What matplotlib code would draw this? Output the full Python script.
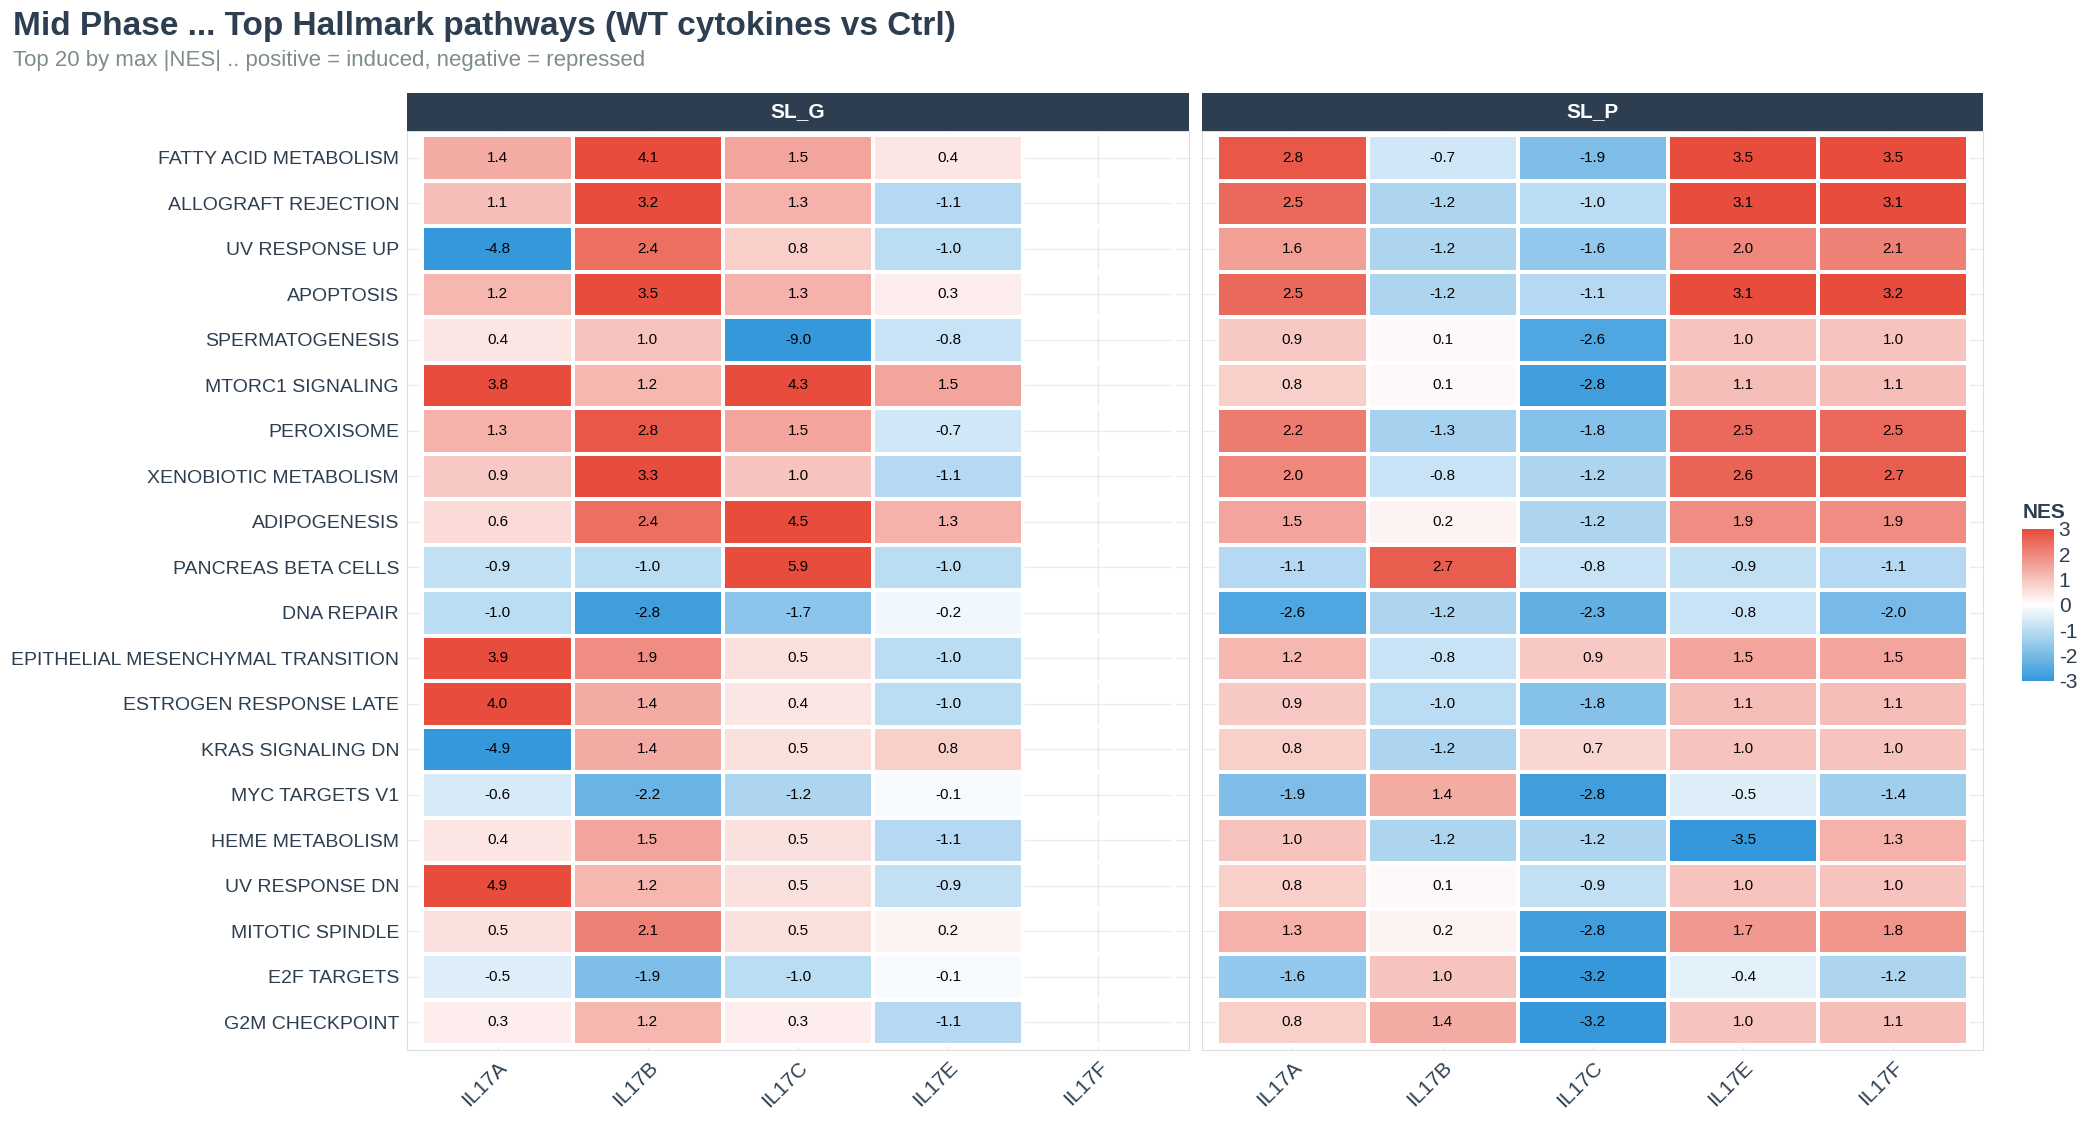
import numpy as np
import matplotlib
matplotlib.use("Agg")
import matplotlib.pyplot as plt
from matplotlib.colors import LinearSegmentedColormap, Normalize

plt.rcParams["font.family"] = ["Liberation Sans", "DejaVu Sans"]
plt.rcParams["axes.unicode_minus"] = False

pathways = ["FATTY ACID METABOLISM", "ALLOGRAFT REJECTION", "UV RESPONSE UP", "APOPTOSIS",
            "SPERMATOGENESIS", "MTORC1 SIGNALING", "PEROXISOME", "XENOBIOTIC METABOLISM",
            "ADIPOGENESIS", "PANCREAS BETA CELLS", "DNA REPAIR",
            "EPITHELIAL MESENCHYMAL TRANSITION", "ESTROGEN RESPONSE LATE", "KRAS SIGNALING DN",
            "MYC TARGETS V1", "HEME METABOLISM", "UV RESPONSE DN", "MITOTIC SPINDLE",
            "E2F TARGETS", "G2M CHECKPOINT"]
cytokines = ["IL17A", "IL17B", "IL17C", "IL17E", "IL17F"]
panels = ["SL_G", "SL_P"]

nan = np.nan
sl_g = [
    [1.4, 4.1, 1.5, 0.4, nan], [1.1, 3.2, 1.3, -1.1, nan], [-4.8, 2.4, 0.8, -1.0, nan],
    [1.2, 3.5, 1.3, 0.3, nan], [0.4, 1.0, -9.0, -0.8, nan], [3.8, 1.2, 4.3, 1.5, nan],
    [1.3, 2.8, 1.5, -0.7, nan], [0.9, 3.3, 1.0, -1.1, nan], [0.6, 2.4, 4.5, 1.3, nan],
    [-0.9, -1.0, 5.9, -1.0, nan], [-1.0, -2.8, -1.7, -0.2, nan], [3.9, 1.9, 0.5, -1.0, nan],
    [4.0, 1.4, 0.4, -1.0, nan], [-4.9, 1.4, 0.5, 0.8, nan], [-0.6, -2.2, -1.2, -0.1, nan],
    [0.4, 1.5, 0.5, -1.1, nan], [4.9, 1.2, 0.5, -0.9, nan], [0.5, 2.1, 0.5, 0.2, nan],
    [-0.5, -1.9, -1.0, -0.1, nan], [0.3, 1.2, 0.3, -1.1, nan]]
sl_p = [
    [2.8, -0.7, -1.9, 3.5, 3.5], [2.5, -1.2, -1.0, 3.1, 3.1], [1.6, -1.2, -1.6, 2.0, 2.1],
    [2.5, -1.2, -1.1, 3.1, 3.2], [0.9, 0.1, -2.6, 1.0, 1.0], [0.8, 0.1, -2.8, 1.1, 1.1],
    [2.2, -1.3, -1.8, 2.5, 2.5], [2.0, -0.8, -1.2, 2.6, 2.7], [1.5, 0.2, -1.2, 1.9, 1.9],
    [-1.1, 2.7, -0.8, -0.9, -1.1], [-2.6, -1.2, -2.3, -0.8, -2.0], [1.2, -0.8, 0.9, 1.5, 1.5],
    [0.9, -1.0, -1.8, 1.1, 1.1], [0.8, -1.2, 0.7, 1.0, 1.0], [-1.9, 1.4, -2.8, -0.5, -1.4],
    [1.0, -1.2, -1.2, -3.5, 1.3], [0.8, 0.1, -0.9, 1.0, 1.0], [1.3, 0.2, -2.8, 1.7, 1.8],
    [-1.6, 1.0, -3.2, -0.4, -1.2], [0.8, 1.4, -3.2, 1.0, 1.1]]

cmap = LinearSegmentedColormap.from_list("nes", ["#3498DB", "#FFFFFF", "#E74C3C"])
norm = Normalize(-3, 3)
dark = "#2C3E50"

fig = plt.figure(figsize=(21, 11.25), dpi=100)
fig.text(0.006, 0.976, "Mid Phase ... Top Hallmark pathways (WT cytokines vs Ctrl)",
         fontsize=24, fontweight="bold", color=dark, va="center")
fig.text(0.006, 0.946, "Top 20 by max |NES| .. positive = induced, negative = repressed",
         fontsize=16, color="#7F8C8D", va="center")

lefts = [0.194, 0.5725]
w, bottom, h = 0.372, 0.067, 0.817
for k, (name, data) in enumerate(zip(panels, [sl_g, sl_p])):
    arr = np.array(data, dtype=float)
    ax = fig.add_axes([lefts[k], bottom, w, h])
    ax.set_xlim(-0.6, 4.6)
    ax.set_ylim(19.6, -0.6)
    for i in range(len(cytokines)):
        ax.axvline(i, color="#EBEBEB", lw=1, zorder=0)
    for j in range(len(pathways)):
        ax.axhline(j, color="#EBEBEB", lw=1, zorder=0)
    xe = np.arange(len(cytokines) + 1) - 0.5
    ye = np.arange(len(pathways) + 1) - 0.5
    ax.pcolormesh(xe, ye, np.ma.masked_invalid(np.clip(arr, -3, 3)), cmap=cmap, norm=norm,
                  edgecolors="white", linewidth=1.5, zorder=1)
    for j in range(arr.shape[0]):
        for i in range(arr.shape[1]):
            if not np.isnan(arr[j, i]):
                ax.text(i, j, f"{arr[j, i]:.1f}", ha="center", va="center", fontsize=11,
                        color="black", zorder=2)
    ax.set_xticks(range(len(cytokines)))
    ax.set_xticklabels(cytokines, rotation=45, ha="right", rotation_mode="anchor",
                       fontsize=15, color=dark)
    ax.set_yticks(range(len(pathways)))
    if k == 0:
        ax.set_yticklabels(pathways, fontsize=14, color=dark)
    else:
        ax.set_yticklabels([])
    ax.tick_params(length=0, pad=6)
    for s in ax.spines.values():
        s.set_color("#DDDDDD")
    sax = fig.add_axes([lefts[k], 0.884, w, 0.033])
    sax.set_facecolor(dark)
    sax.set_xticks([]); sax.set_yticks([])
    for s in sax.spines.values():
        s.set_visible(False)
    sax.text(0.5, 0.5, name, color="white", fontsize=15, fontweight="bold",
             ha="center", va="center", transform=sax.transAxes)

cax = fig.add_axes([0.963, 0.395, 0.015, 0.135])
cb = fig.colorbar(plt.cm.ScalarMappable(norm=norm, cmap=cmap), cax=cax, ticks=[3, 2, 1, 0, -1, -2, -3])
cb.outline.set_visible(False)
cb.ax.tick_params(length=0, labelsize=15, labelcolor=dark)
cax.set_title("NES", fontsize=15, fontweight="bold", color=dark, loc="left", pad=8)

fig.savefig("out.png", dpi=100)
